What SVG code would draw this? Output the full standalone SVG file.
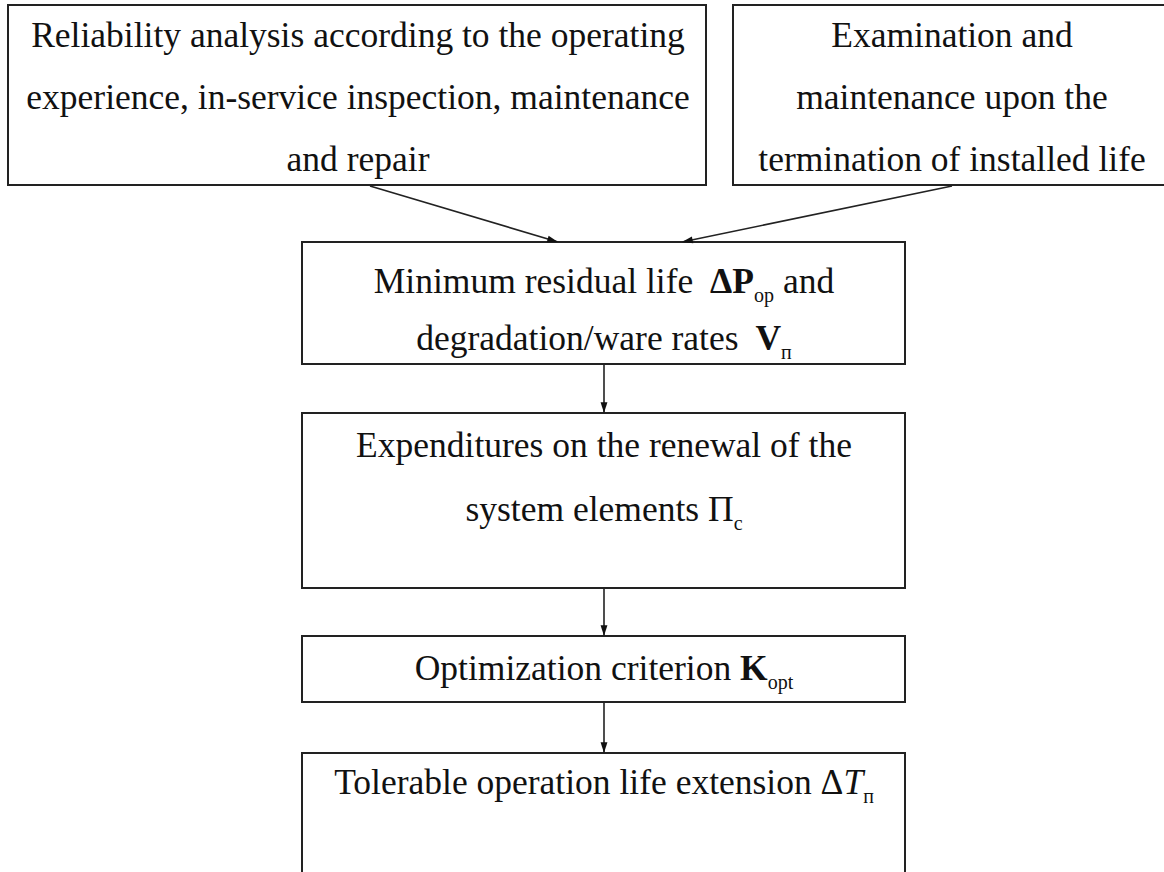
<svg xmlns="http://www.w3.org/2000/svg" width="1164" height="872" viewBox="0 0 1164 872">
<defs>
<style>
.box{fill:#fff;stroke:#222;stroke-width:2}
.t{font-family:"Liberation Serif","Times New Roman",serif;font-size:35.5px;fill:#111;text-anchor:middle}
.sub{font-size:20px}
.b{font-weight:bold}
.con{stroke:#222;stroke-width:1.6;fill:none;marker-end:url(#ah)}
</style>
<marker id="ah" viewBox="0 0 12 10" refX="12" refY="5" markerWidth="12" markerHeight="9" markerUnits="userSpaceOnUse" orient="auto"><path d="M0,1.2 L12,5 L0,8.8 z" fill="#111"/></marker>
</defs>
<rect width="1164" height="872" fill="#fff"/>
<g id="reliability">
<rect class="box" x="8" y="5" width="698" height="180"/>
<text class="t" x="358" y="47">Reliability analysis according to the operating</text>
<text class="t" x="358" y="109">experience, in-service inspection, maintenance</text>
<text class="t" x="358" y="171">and repair</text>
</g>
<g id="examination">
<rect class="box" x="733" y="5" width="440" height="180"/>
<text class="t" x="952" y="47">Examination and</text>
<text class="t" x="952" y="109">maintenance upon the</text>
<text class="t" x="952" y="171">termination of installed life</text>
</g>
<g id="residual">
<rect class="box" x="302" y="242" width="603" height="122"/>
<text class="t" x="604" y="293">Minimum residual life <tspan class="b" dx="8">ΔP</tspan><tspan class="sub" dy="9">op</tspan><tspan dy="-9"> and</tspan></text>
<text class="t" x="604" y="350">degradation/ware rates <tspan class="b" dx="8">V</tspan><tspan class="sub" dy="9">п</tspan></text>
</g>
<g id="expenditures">
<rect class="box" x="302" y="413" width="603" height="175"/>
<text class="t" x="604" y="457">Expenditures on the renewal of the</text>
<text class="t" x="604" y="521">system elements Π<tspan class="sub" dy="9">c</tspan></text>
</g>
<g id="criterion">
<rect class="box" x="302" y="636" width="603" height="66"/>
<text class="t" x="604" y="680">Optimization criterion <tspan class="b">K</tspan><tspan class="sub" dy="9">opt</tspan></text>
</g>
<g id="extension">
<rect class="box" x="302" y="753" width="603" height="140"/>
<text class="t" x="604" y="794">Tolerable operation life extension Δ<tspan font-style="italic">T</tspan><tspan class="sub" dy="9">п</tspan></text>
</g>
<g id="connectors">
<line class="con" x1="370" y1="186" x2="558" y2="242"/>
<line class="con" x1="952" y1="186" x2="682" y2="242"/>
<line class="con" x1="604" y1="364" x2="604" y2="413"/>
<line class="con" x1="604" y1="588" x2="604" y2="636"/>
<line class="con" x1="604" y1="702" x2="604" y2="753"/>
</g>
</svg>
